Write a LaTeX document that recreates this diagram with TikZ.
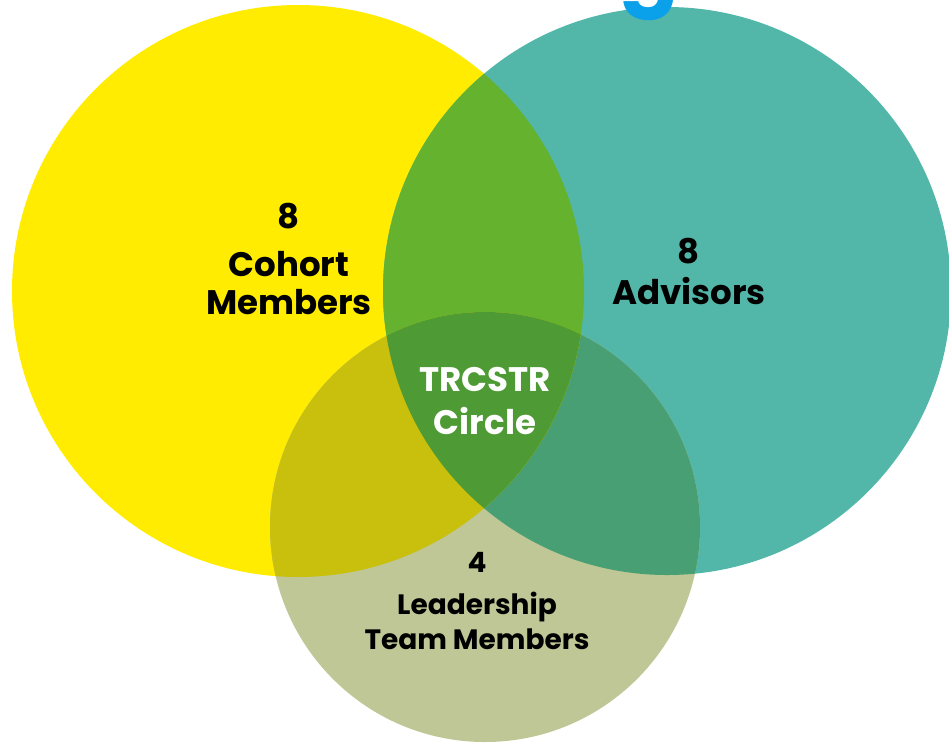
\documentclass[tikz,border=0pt]{standalone}
\usepackage{fontspec}
\setmainfont{Poppins}
\usetikzlibrary{positioning}

\definecolor{vennyellow}{HTML}{FFEC00}
\definecolor{vennteal}{HTML}{52B7A8}
\definecolor{vennkhaki}{HTML}{BEC795}
\definecolor{yellowteal}{HTML}{65B22E}
\definecolor{yellowkhaki}{HTML}{C8C00C}
\definecolor{tealkhaki}{HTML}{489F73}
\definecolor{allthree}{HTML}{4E9A34}
\definecolor{titleblue}{HTML}{0AA0EA}

\begin{document}
\begin{tikzpicture}[x=1pt,y=-1pt,
    venn label/.style={align=center, inner sep=0pt, anchor=north, text=black,
        font=\bfseries\fontsize{34}{38}\selectfont},
    small label/.style={venn label,
        font=\bfseries\fontsize{28}{35}\selectfont}]
    \useasboundingbox (0,0) rectangle (949,742);
    \coordinate (cohort) at (298,291);
    \coordinate (advisors) at (667,291);
    \coordinate (leaders) at (485,527);
    \begin{scope}
        \clip (0,0) rectangle (949,742);
        \fill[vennyellow] (cohort) circle (286pt);
        \fill[vennteal] (advisors) circle (284pt);
        \fill[vennkhaki] (leaders) circle (215pt);
        \begin{scope}
            \clip (advisors) circle (284pt);
            \fill[tealkhaki] (leaders) circle (215pt);
        \end{scope}
        \begin{scope}
            \clip (cohort) circle (286pt);
            \fill[yellowteal] (advisors) circle (284pt);
            \fill[yellowkhaki] (leaders) circle (215pt);
            \clip (advisors) circle (284pt);
            \fill[allthree] (leaders) circle (215pt);
        \end{scope}
        % cut off title letter
        \node[anchor=base, text=titleblue, inner sep=0pt,
            font=\bfseries\fontsize{88}{88}\selectfont] (title) at (649,-4) {g};
    \end{scope}
    % labels
    \node[venn label] (cohortlabel) at (289,203) {8\\[10pt]Cohort\\Members};
    \node[venn label] (advisorslabel) at (689,238) {8\\[3pt]Advisors};
    \node[venn label, text=white] (circlelabel) at (485,367) {TRCSTR\\[5pt]Circle};
    \node[small label] (leaderslabel) at (477,552) {4\\[7pt]Leadership\\Team Members};
\end{tikzpicture}
\end{document}
